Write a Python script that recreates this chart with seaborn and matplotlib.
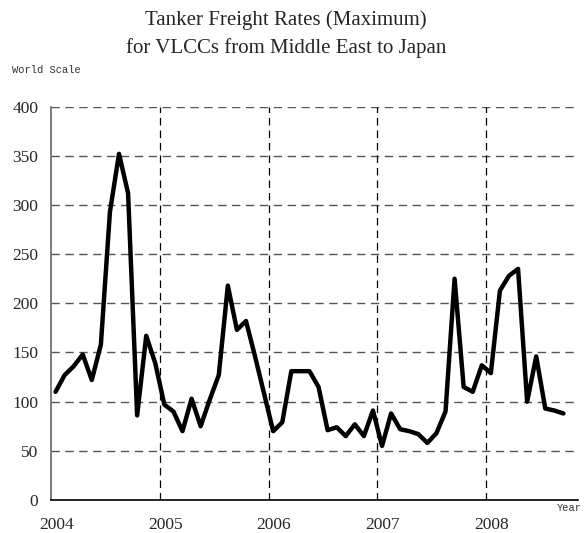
import numpy as np
import pandas as pd
import matplotlib
matplotlib.use("Agg")
import matplotlib.pyplot as plt
import seaborn as sns

# monthly maximum rates, Jan 2004 - Sep 2008 (World Scale)
rates = [110, 127, 136, 148, 122, 158, 293, 352, 312, 86, 167, 139,
         97, 90, 70, 103, 75, 102, 127, 218, 173, 182, 146, 108,
         70, 79, 131, 131, 131, 115, 71, 74, 65, 77, 65, 91,
         55, 88, 72, 70, 67, 58, 68, 90, 225, 115, 110, 137,
         129, 213, 228, 235, 100, 146, 93, 91, 88]
start_year = 2004
years = [2004, 2005, 2006, 2007, 2008]
y_ticks = [0, 50, 100, 150, 200, 250, 300, 350, 400]

# points sit in the middle of each month
month_pos = [start_year + (i + 0.5) / 12 for i in range(len(rates))]
df = pd.DataFrame({"time": month_pos, "rate": rates})

sns.set_style("white")
plt.rcParams['font.family'] = ['Liberation Serif', 'DejaVu Serif']

fig = plt.figure(figsize=(5.84, 5.33), dpi=100)
ax = fig.add_axes([0.0873, 0.0619, 0.902, 0.738])

sns.lineplot(data=df, x="time", y="rate", ax=ax, color="black", linewidth=3.2)

ax.set_xlim(2004, 2008.84)
ax.set_ylim(0, 400)
ax.set_xticks(years)
ax.set_xticklabels([str(y) for y in years])
ax.set_yticks(y_ticks)
ax.tick_params(axis="both", length=0, labelsize=12.5)
ax.tick_params(axis="x", pad=12)
ax.tick_params(axis="y", pad=9)
for lbl in ax.get_xticklabels():
    lbl.set_horizontalalignment("left")
    lbl.set_x(0)
# nudge the year labels a bit to the left of the tick
import matplotlib.transforms as mtrans
offset = mtrans.ScaledTranslation(-12 / 100, 0, fig.dpi_scale_trans)
for lbl in ax.get_xticklabels():
    lbl.set_transform(lbl.get_transform() + offset)

# grid lines
for v in y_ticks[1:]:
    ax.axhline(v, color="#555555", linestyle=(0, (6, 4)), linewidth=1.0, zorder=0)
for yr in years[1:]:
    ax.axvline(yr, color="black", linestyle=(0, (6, 4)), linewidth=0.9, zorder=0)

ax.set_xlabel("")
ax.set_ylabel("")
for side in ["top", "right"]:
    ax.spines[side].set_visible(False)
ax.spines["left"].set_color("#666666")
ax.spines["left"].set_linewidth(1.2)
ax.spines["bottom"].set_color("black")
ax.spines["bottom"].set_linewidth(1.2)

fig.text(0.49, 0.962, "Tanker Freight Rates (Maximum)", ha="center", va="center", fontsize=15)
fig.text(0.49, 0.909, "for VLCCs from Middle East to Japan", ha="center", va="center", fontsize=15)
fig.text(0.02, 0.868, "World Scale", ha="left", va="center", fontsize=7.5,
         family=["Liberation Mono", "DejaVu Sans Mono"], color="#333333")
fig.text(0.954, 0.047, "Year", ha="left", va="center", fontsize=7.5,
         family=["Liberation Mono", "DejaVu Sans Mono"], color="#333333")

fig.savefig("out.png", dpi=100)
